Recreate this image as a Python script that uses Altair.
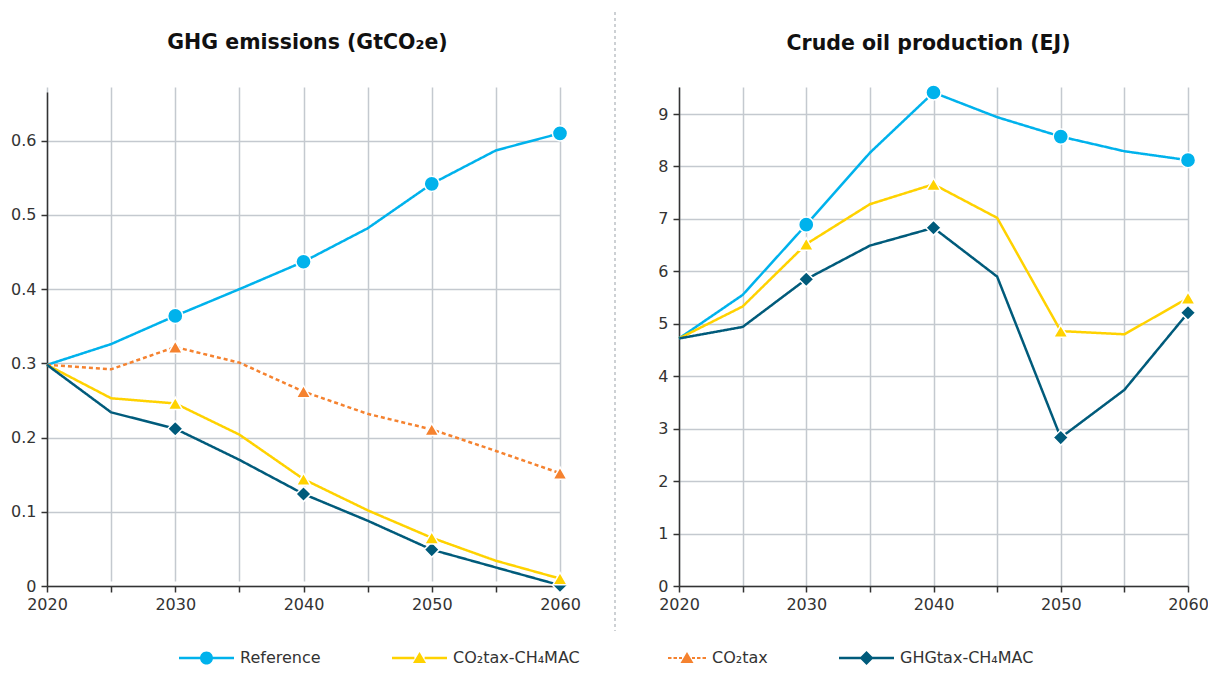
import altair as alt
import pandas as pd

# ---------------- data ----------------
years = [2020, 2025, 2030, 2035, 2040, 2045, 2050, 2055, 2060]
year_ticks = [2020, 2025, 2030, 2035, 2040, 2045, 2050, 2055, 2060]

series_names = ["Reference", "CO₂tax-CH₄MAC", "CO₂tax", "GHGtax-CH₄MAC"]
series_colors = ["#00B2EC", "#FFD200", "#F5822F", "#005B7B"]
series_dash = [[1, 0], [1, 0], [4, 3], [1, 0]]

ghg_reference = [0.298, 0.326, 0.364, 0.400, 0.437, 0.482, 0.542, 0.587, 0.610]
ghg_co2tax_ch4mac = [0.298, 0.253, 0.246, 0.204, 0.144, 0.102, 0.065, 0.034, 0.010]
ghg_co2tax = [0.298, 0.292, 0.322, 0.301, 0.262, 0.232, 0.211, 0.182, 0.152]
ghg_ghgtax_ch4mac = [0.298, 0.234, 0.212, 0.170, 0.124, 0.088, 0.049, 0.025, 0.001]

oil_reference = [4.72, 5.55, 6.89, 8.26, 9.41, 8.94, 8.57, 8.29, 8.12]
oil_co2tax_ch4mac = [4.72, 5.33, 6.52, 7.28, 7.66, 7.02, 4.86, 4.80, 5.49]
oil_ghgtax_ch4mac = [4.72, 4.94, 5.85, 6.49, 6.83, 5.90, 2.83, 3.74, 5.21]

ghg_ticks = [0, 0.1, 0.2, 0.3, 0.4, 0.5, 0.6]
oil_ticks = [0, 1, 2, 3, 4, 5, 6, 7, 8, 9]

title_ghg = "GHG emissions (GtCO₂e)"
title_oil = "Crude oil production (EJ)"

# legend symbols: line + marker drawn as custom paths (1 unit = 7 px)
legend_paths = [
    "M-1,-0.18H2.05V0.18H-1Z M3.81,-0.18H6.857V0.18H3.81Z "
    "M2.0,0A0.93,0.93 0 1,1 3.86,0A0.93,0.93 0 1,1 2.0,0Z",
    "M-1,-0.18H2.2V0.18H-1Z M3.66,-0.18H6.857V0.18H3.66Z "
    "M2.93,-0.86L3.86,0.71L2.0,0.71Z",
    "M1.429,-0.16H1.929V0.16H1.429Z M2.214,-0.16H2.714V0.16H2.214Z "
    "M3.0,-0.16H3.429V0.16H3.0Z M4.857,-0.16H5.286V0.16H4.857Z "
    "M5.571,-0.16H6.071V0.16H5.571Z M6.357,-0.16H6.857V0.16H6.357Z "
    "M4.143,-0.86L5.07,0.71L3.21,0.71Z",
    "M-1,-0.18H2.1V0.18H-1Z M3.76,-0.18H6.857V0.18H3.76Z "
    "M2.93,-1L3.93,0L2.93,1L1.93,0Z",
]


def long_table(series_lists):
    rows = []
    for name, values in series_lists:
        for yr, v in zip(years, values):
            rows.append({"year": yr, "value": v, "series": name})
    return pd.DataFrame(rows)


ghg_df = long_table([
    (series_names[0], ghg_reference),
    (series_names[1], ghg_co2tax_ch4mac),
    (series_names[2], ghg_co2tax),
    (series_names[3], ghg_ghgtax_ch4mac),
])
oil_df = long_table([
    (series_names[0], oil_reference),
    (series_names[1], oil_co2tax_ch4mac),
    (series_names[3], oil_ghgtax_ch4mac),
])

FONT = "DejaVu Sans"
TXT = "#333333"
GRID = "#C4C9CF"

W_LEFT = 513
W_RIGHT = 509
H = 499

color_scale = alt.Scale(domain=series_names, range=series_colors)


def x_enc():
    return alt.X(
        "year:Q",
        scale=alt.Scale(domain=[2020, 2060], nice=False, zero=False),
        axis=alt.Axis(
            values=year_ticks,
            labelExpr="datum.value % 10 == 0 ? datum.value : ''",
            title=None,
            grid=True,
            gridColor=GRID,
            gridWidth=1.5,
            domainColor=TXT,
            domainWidth=1.5,
            tickColor=TXT,
            tickWidth=1.5,
            tickSize=6,
            labelFont=FONT,
            labelFontSize=16,
            labelColor=TXT,
            labelPadding=4,
            labelFlush=False,
        ),
    )


def y_axis(ticks, fmt):
    return alt.Axis(
        values=ticks,
        format=fmt,
        title=None,
        grid=True,
        gridColor=GRID,
        gridWidth=1.5,
        domainColor=TXT,
        domainWidth=1.5,
        tickColor=TXT,
        tickWidth=1.5,
        tickSize=6,
        labelFont=FONT,
        labelFontSize=16,
        labelColor=TXT,
        labelPadding=5,
    )


def panel(df, yscale, ticks, fmt, title, title_offset, title_dx, width, with_legend):
    base = alt.Chart(df).encode(
        x=x_enc(),
        y=alt.Y("value:Q", scale=yscale, axis=y_axis(ticks, fmt)),
    )
    lines = base.mark_line(strokeWidth=2.5).encode(
        color=alt.Color("series:N", scale=color_scale, legend=None),
        strokeDash=alt.StrokeDash(
            "series:N",
            scale=alt.Scale(domain=series_names, range=series_dash),
            legend=None,
        ),
    )
    marker_filter = "datum.year % 10 == 0 && datum.year > 2020"
    diamonds = base.transform_filter(marker_filter).transform_filter(
        alt.FieldOneOfPredicate(field="series", oneOf=[series_names[3]])
    ).mark_point(shape="diamond", filled=True, size=230, opacity=1,
                 stroke="white", strokeWidth=1.5).encode(
        color=alt.Color("series:N", scale=color_scale, legend=None))
    triangles = base.transform_filter(marker_filter).transform_filter(
        alt.FieldOneOfPredicate(field="series", oneOf=[series_names[1], series_names[2]])
    ).mark_point(shape="triangle-up", filled=True, size=200, opacity=1,
                 stroke="white", strokeWidth=1.5).encode(
        color=alt.Color("series:N", scale=color_scale, legend=None))
    circles = base.transform_filter(marker_filter).transform_filter(
        alt.FieldOneOfPredicate(field="series", oneOf=[series_names[0]])
    ).mark_point(shape="circle", filled=True, size=230, opacity=1,
                 stroke="white", strokeWidth=1.5).encode(
        color=alt.Color("series:N", scale=color_scale, legend=None))

    layers = []
    if with_legend:
        leg = alt.Legend(
            title=None,
            orient="none",
            legendX=131,
            legendY=563,
            direction="horizontal",
            columns=4,
            columnPadding=70,
            padding=0,
            symbolSize=196,
            symbolStrokeWidth=0,
            symbolOpacity=1,
            labelOffset=46,
            labelFont=FONT,
            labelFontSize=16,
            labelColor=TXT,
        )
        # first layer so that its (enabled) legend wins the merge
        legend_layer = base.mark_point(filled=True, opacity=0).encode(
            color=alt.Color("series:N", scale=color_scale, legend=leg),
            shape=alt.Shape("series:N",
                            scale=alt.Scale(domain=series_names, range=legend_paths),
                            legend=leg),
        )
        layers.append(legend_layer)
    layers += [lines, diamonds, triangles, circles]

    return alt.layer(*layers).properties(
        width=width,
        height=H,
        title=alt.TitleParams(
            text=title,
            font=FONT,
            fontSize=20.5,
            fontWeight="bold",
            color="#111111",
            anchor="middle",
            baseline="alphabetic",
            offset=title_offset,
            dx=title_dx,
        ),
    )


left = panel(
    ghg_df,
    alt.Scale(domain=[0, 0.6657], range=[H, 5], nice=False, zero=True),
    ghg_ticks, ".1~f", title_ghg, 18, 4, W_LEFT, True,
)
right = panel(
    oil_df,
    alt.Scale(domain=[0, 9.515], nice=False, zero=True),
    oil_ticks, "d", title_oil, 11, -5, W_RIGHT, False,
)

separator = alt.Chart(pd.DataFrame({"sep": [0]})).mark_rule(
    color="#B3B8BE", strokeWidth=1.3, strokeDash=[3, 3]
).encode(
    x=alt.value(-3.5), y=alt.value(-75), y2=alt.value(544)
).properties(width=2, height=H)

chart = alt.hconcat(left, separator, right, spacing=58.5, bounds="flush").properties(
    autosize=alt.AutoSizeParams(type="none"),
    padding={"left": 39, "top": 79, "right": 1161, "bottom": 578},
).configure(font=FONT).configure_view(stroke=None, strokeWidth=0)

chart.save("out.html", embed_options={"renderer": "svg", "actions": False})
